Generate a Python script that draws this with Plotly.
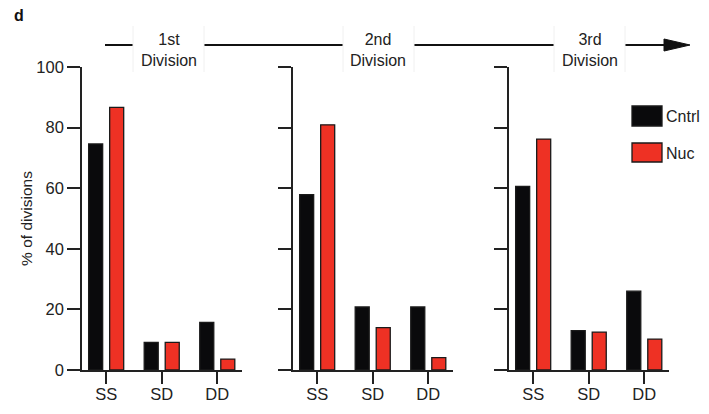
import plotly.graph_objects as go

categories = ["SS", "SD", "DD"]
divisions = ["1st<br>Division", "2nd<br>Division", "3rd<br>Division"]
cntrl = [[74.6, 9.1, 15.7], [57.9, 20.8, 20.8], [60.6, 13.0, 26.0]]
nuc = [[86.7, 9.1, 3.6], [80.9, 14.0, 4.1], [76.2, 12.5, 10.2]]
y_ticks = [0, 20, 40, 60, 80, 100]
series_names = ["Cntrl", "Nuc"]
colors = ["#0a0a0c", "#ee3124"]
FONT = "Liberation Sans, Arial"

W, H = 709, 414
def px(x):
    return x / W
def py(y):
    return 1 - y / H

fig = go.Figure()
panel_px = [(82, 242), (293, 453), (509, 669)]
for i in range(3):
    xa = "x" if i == 0 else f"x{i+1}"
    ya = "y" if i == 0 else f"y{i+1}"
    for vals, name, col in [(cntrl[i], series_names[0], colors[0]), (nuc[i], series_names[1], colors[1])]:
        fig.add_trace(go.Bar(x=categories, y=vals, name=name, marker=dict(color=col, line=dict(color="#1a1a1a", width=1.3)),
                             xaxis=xa, yaxis=ya, showlegend=False))
    lay_x = "xaxis" if i == 0 else f"xaxis{i+1}"
    lay_y = "yaxis" if i == 0 else f"yaxis{i+1}"
    fig.layout[lay_x] = dict(domain=[px(panel_px[i][0]), px(panel_px[i][1])], anchor=ya, range=[-0.435, 2.445],
                             showline=True, linecolor="#222", linewidth=1.6, ticks="outside", ticklen=12, tickwidth=1.6,
                             tickcolor="#222", showgrid=False, zeroline=False, automargin=False, ticklabelstandoff=-4,
                             tickfont=dict(family=FONT, size=16.5, color="#222"), fixedrange=True)
    fig.layout[lay_y] = dict(domain=[py(370), py(67)], anchor=xa, range=[0, 100], tickvals=y_ticks,
                             showticklabels=(i == 0), showline=True, linecolor="#222", linewidth=1.6,
                             ticks="outside", ticklen=13, tickwidth=1.6, tickcolor="#222", showgrid=False,
                             zeroline=False, automargin=False, ticklabelstandoff=0,
                             tickfont=dict(family=FONT, size=16.5, color="#222"),
                             title=dict(text="% of divisions" if i == 0 else "", standoff=0,
                                        font=dict(family=FONT, size=15.5, color="#222")))

shapes = []
segs = [(105, 133), (204, 343), (414, 554), (625, 668)]
for a, b in segs:
    shapes.append(dict(type="line", xref="paper", yref="paper", x0=px(a), x1=px(b), y0=py(45), y1=py(45),
                       line=dict(color="#111", width=2)))
for xv in [133, 204, 343, 414, 554, 625]:
    shapes.append(dict(type="line", xref="paper", yref="paper", x0=px(xv), x1=px(xv), y0=py(26), y1=py(72),
                       line=dict(color="#f0f0f0", width=1)))
shapes.append(dict(type="path", xref="paper", yref="paper",
                   path=f"M {px(664)} {py(39)} L {px(690)} {py(45)} L {px(664)} {py(51)} Z",
                   fillcolor="#111", line=dict(color="#111", width=1)))
for (y0, y1), col in zip([(106, 126), (143, 162)], colors):
    shapes.append(dict(type="rect", xref="paper", yref="paper", x0=px(632), x1=px(662), y0=py(y1), y1=py(y0),
                       fillcolor=col, line=dict(color="#1a1a1a", width=1.3)))

annotations = [dict(text="<b>d</b>", x=px(12), y=py(16), xref="paper", yref="paper", showarrow=False,
                    xanchor="left", yanchor="middle", font=dict(family=FONT, size=16, color="#111"))]
for cx, lab in zip([168.5, 378.5, 589.5], divisions):
    annotations.append(dict(text=lab, x=px(cx), y=py(50), xref="paper", yref="paper", showarrow=False,
                            xanchor="center", yanchor="middle",
                            font=dict(family=FONT, size=16, color="#222")))
for yc, name in zip([116, 153], series_names):
    annotations.append(dict(text=name, x=px(664), y=py(yc), xref="paper", yref="paper", showarrow=False,
                            xanchor="left", yanchor="middle",
                            font=dict(family=FONT, size=16, color="#222")))

fig.update_layout(width=W, height=H, margin=dict(l=0, r=0, t=0, b=0), plot_bgcolor="white", paper_bgcolor="white",
                  barmode="group", bargap=0.243, bargroupgap=0.333, shapes=shapes, annotations=annotations,
                  template="none")
fig.write_html("out.html")
